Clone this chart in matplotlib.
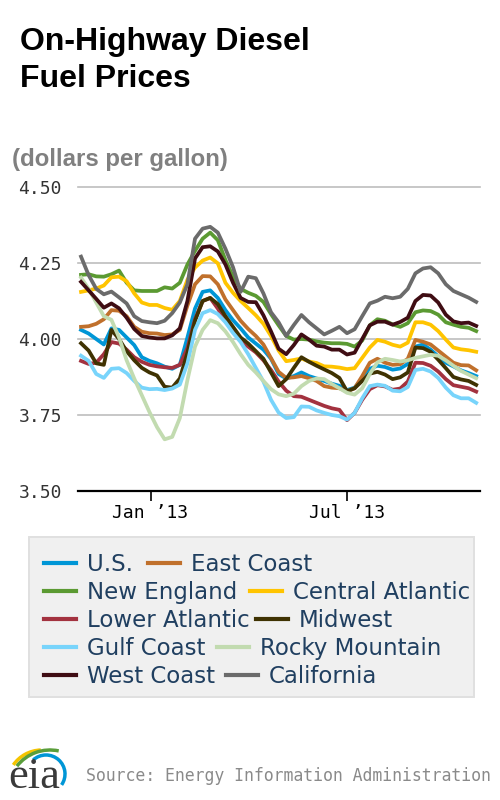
import numpy as np
import pandas as pd
import matplotlib
matplotlib.use('Agg')
import matplotlib.pyplot as plt
from matplotlib.patches import Rectangle, Arc
from matplotlib.lines import Line2D

# weekly on-highway diesel prices, dollars per gallon
weeks = pd.date_range('2012-10-29', periods=53, freq='7D')

us = [4.030, 4.018, 4.000, 3.982, 4.035, 4.030, 4.005, 3.980, 3.940, 3.928,
      3.920, 3.909, 3.902, 3.915, 4.005, 4.100, 4.155, 4.160, 4.135, 4.095,
      4.062, 4.035, 4.005, 3.985, 3.965, 3.935, 3.885, 3.870, 3.878, 3.890,
      3.878, 3.870, 3.862, 3.853, 3.846, 3.832, 3.840, 3.868, 3.902, 3.912,
      3.908, 3.899, 3.903, 3.918, 3.975, 3.982, 3.965, 3.943, 3.922, 3.910,
      3.897, 3.888, 3.878]
east_coast = [4.040, 4.042, 4.050, 4.065, 4.095, 4.093, 4.075, 4.040, 4.024, 4.019,
              4.018, 4.013, 4.015, 4.030, 4.110, 4.180, 4.207, 4.206, 4.180, 4.130,
              4.095, 4.060, 4.033, 4.010, 3.982, 3.937, 3.892, 3.872, 3.874, 3.878,
              3.871, 3.862, 3.845, 3.840, 3.838, 3.828, 3.838, 3.878, 3.922, 3.935,
              3.922, 3.915, 3.917, 3.935, 3.997, 3.991, 3.982, 3.962, 3.942, 3.922,
              3.914, 3.913, 3.897]
new_england = [4.211, 4.213, 4.206, 4.205, 4.213, 4.225, 4.185, 4.160, 4.158, 4.158,
               4.158, 4.170, 4.166, 4.185, 4.245, 4.290, 4.330, 4.350, 4.325, 4.260,
               4.205, 4.165, 4.152, 4.142, 4.122, 4.082, 4.045, 4.010, 3.998, 4.000,
               3.998, 3.992, 3.988, 3.986, 3.986, 3.984, 3.975, 3.995, 4.045, 4.065,
               4.060, 4.048, 4.040, 4.052, 4.088, 4.094, 4.092, 4.080, 4.055, 4.047,
               4.040, 4.037, 4.026]
central_atlantic = [4.155, 4.160, 4.166, 4.176, 4.203, 4.205, 4.190, 4.150, 4.120, 4.112,
                    4.112, 4.102, 4.096, 4.125, 4.195, 4.235, 4.258, 4.268, 4.249, 4.185,
                    4.152, 4.125, 4.102, 4.078, 4.050, 4.010, 3.962, 3.927, 3.931, 3.936,
                    3.926, 3.921, 3.910, 3.909, 3.906, 3.901, 3.904, 3.938, 3.972, 3.997,
                    3.991, 3.981, 3.975, 3.988, 4.055, 4.055, 4.047, 4.026, 3.998, 3.972,
                    3.966, 3.963, 3.958]
lower_atlantic = [3.928, 3.918, 3.922, 3.950, 3.990, 3.985, 3.965, 3.940, 3.925, 3.915,
                  3.910, 3.907, 3.905, 3.915, 3.970, 4.065, 4.125, 4.135, 4.100, 4.060,
                  4.028, 3.995, 3.975, 3.956, 3.930, 3.898, 3.860, 3.830, 3.812, 3.810,
                  3.800, 3.790, 3.780, 3.772, 3.767, 3.733, 3.757, 3.800, 3.835, 3.848,
                  3.844, 3.833, 3.837, 3.860, 3.922, 3.921, 3.912, 3.893, 3.868, 3.848,
                  3.843, 3.838, 3.827]
midwest = [3.986, 3.962, 3.920, 3.915, 4.030, 4.000, 3.960, 3.930, 3.905, 3.890,
           3.880, 3.843, 3.840, 3.870, 3.955, 4.060, 4.125, 4.135, 4.115, 4.075,
           4.040, 4.005, 3.985, 3.960, 3.935, 3.890, 3.845, 3.868, 3.905, 3.940,
           3.925, 3.912, 3.900, 3.888, 3.872, 3.828, 3.838, 3.862, 3.886, 3.892,
           3.883, 3.868, 3.874, 3.890, 3.972, 3.970, 3.958, 3.932, 3.904, 3.875,
           3.867, 3.862, 3.849]
gulf_coast = [3.945, 3.928, 3.885, 3.872, 3.902, 3.904, 3.888, 3.862, 3.840, 3.835,
              3.836, 3.832, 3.837, 3.850, 3.920, 4.030, 4.085, 4.095, 4.082, 4.055,
              4.020, 3.990, 3.950, 3.905, 3.860, 3.800, 3.758, 3.740, 3.743, 3.778,
              3.777, 3.765, 3.757, 3.750, 3.746, 3.735, 3.757, 3.805, 3.845, 3.850,
              3.846, 3.830, 3.828, 3.842, 3.898, 3.902, 3.893, 3.872, 3.840, 3.815,
              3.805, 3.805, 3.790]
rocky_mountain = [4.202, 4.165, 4.120, 4.075, 4.063, 4.005, 3.930, 3.870, 3.815, 3.760,
                  3.710, 3.670, 3.678, 3.740, 3.865, 3.975, 4.030, 4.062, 4.052, 4.025,
                  3.990, 3.950, 3.915, 3.890, 3.862, 3.835, 3.818, 3.812, 3.820, 3.845,
                  3.862, 3.870, 3.868, 3.852, 3.838, 3.823, 3.817, 3.838, 3.885, 3.923,
                  3.935, 3.931, 3.926, 3.930, 3.938, 3.943, 3.948, 3.945, 3.930, 3.912,
                  3.895, 3.883, 3.871]
west_coast = [4.188, 4.160, 4.132, 4.103, 4.117, 4.101, 4.070, 4.033, 4.010, 4.005,
              4.002, 4.002, 4.012, 4.035, 4.125, 4.265, 4.302, 4.305, 4.288, 4.245,
              4.185, 4.135, 4.122, 4.121, 4.078, 4.025, 3.968, 3.950, 3.980, 4.015,
              3.998, 3.978, 3.975, 3.965, 3.965, 3.949, 3.955, 4.000, 4.045, 4.057,
              4.057, 4.047, 4.056, 4.070, 4.125, 4.145, 4.143, 4.120, 4.080, 4.058,
              4.052, 4.054, 4.043]
california = [4.271, 4.210, 4.165, 4.147, 4.156, 4.137, 4.117, 4.075, 4.059, 4.055,
              4.052, 4.060, 4.085, 4.120, 4.180, 4.330, 4.363, 4.369, 4.350, 4.297,
              4.236, 4.155, 4.205, 4.200, 4.150, 4.088, 4.055, 4.010, 4.046, 4.079,
              4.055, 4.035, 4.015, 4.027, 4.040, 4.019, 4.032, 4.075, 4.117, 4.126,
              4.139, 4.134, 4.139, 4.165, 4.216, 4.232, 4.236, 4.216, 4.180, 4.158,
              4.147, 4.136, 4.122]

names = ['U.S.', 'East Coast', 'New England', 'Central Atlantic', 'Lower Atlantic',
         'Midwest', 'Gulf Coast', 'Rocky Mountain', 'West Coast', 'California']
values = [us, east_coast, new_england, central_atlantic, lower_atlantic,
          midwest, gulf_coast, rocky_mountain, west_coast, california]
colors = ['#0096d6', '#c0702c', '#5b9a32', '#ffc400', '#a3323f',
          '#3f3202', '#78d4fb', '#c2dbb0', '#3f0d13', '#6b6b6b']

yticks = [3.50, 3.75, 4.00, 4.25, 4.50]
ytick_labels = ['3.50', '3.75', '4.00', '4.25', '4.50']
xticks = [pd.Timestamp('2013-01-01'), pd.Timestamp('2013-07-01')]
xtick_labels = ['Jan \u201913', 'Jul \u201913']

W, H = 500, 800
fig = plt.figure(figsize=(5, 8), dpi=100)

# chart
ax = fig.add_axes([78 / W, 309 / H, 402 / W, 304 / H])
for vals, col in zip(values, colors):
    ax.plot(weeks, vals, color=col, lw=2.7, zorder=3)

ax.set_ylim(3.5, 4.5)
ax.set_xlim(pd.Timestamp('2012-10-26 05:00'), pd.Timestamp('2013-10-31 12:00'))
ax.set_yticks(yticks)
ax.set_yticklabels(ytick_labels, fontfamily='DejaVu Sans Mono', fontsize=13, color='#333333')
ax.set_xticks(xticks)
ax.set_xticklabels(xtick_labels, fontfamily='DejaVu Sans Mono', fontsize=13, color='black')
ax.grid(axis='y', color='#bdbdbd', lw=1.2)
for gl in ax.get_ygridlines():
    gl.set_clip_on(False)
ax.set_axisbelow(True)
for s in ['top', 'left', 'right']:
    ax.spines[s].set_visible(False)
ax.spines['bottom'].set_linewidth(1.6)
ax.spines['bottom'].set_zorder(4)
ax.tick_params(axis='y', length=0, pad=11.5)
ax.tick_params(axis='x', length=7, width=1.2, pad=2, color='black')

# overlay in pixel coordinates for titles, legend, footer
ov = fig.add_axes([0, 0, 1, 1])
ov.set_xlim(0, W)
ov.set_ylim(H, 0)
ov.axis('off')

ov.text(20, 50, 'On-Highway Diesel', fontsize=23, fontweight='bold',
        family='Liberation Sans', va='baseline', ha='left')
ov.text(20, 87, 'Fuel Prices', fontsize=23, fontweight='bold',
        family='Liberation Sans', va='baseline', ha='left')
ov.text(12, 166, '(dollars per gallon)', fontsize=17.3, fontweight='bold',
        family='Liberation Sans', color='#808080', va='baseline', ha='left')

# legend box
box = Rectangle((28.5, 536.5), 445, 160, facecolor='#f0f0f0', edgecolor='#e0e0e0', lw=1.4)
ov.add_patch(box)
color_of = dict(zip(names, colors))
legend_rows = [('U.S.', 'East Coast'), ('New England', 'Central Atlantic'),
               ('Lower Atlantic', 'Midwest'), ('Gulf Coast', 'Rocky Mountain'),
               ('West Coast', 'California')]
second_x = [148, 250, 256, 217, 226]
for i, (a, b) in enumerate(legend_rows):
    base = 571 + 28 * i
    for x0, lab in ((44, a), (second_x[i], b)):
        ov.add_line(Line2D([x0, x0 + 32], [base - 8, base - 8], color=color_of[lab], lw=3))
        t = ov.text(x0 + 43, base, lab, fontsize=16.5, family='DejaVu Sans',
                    color='#203f60', va='baseline', ha='left')
        t.set_clip_path(box)

# footer
ov.text(86, 781, 'Source: Energy Information Administration', family='DejaVu Sans Mono',
        fontsize=11.9, color='#8a8a8a', va='baseline', ha='left')
ov.text(8, 788, 'eia', family='Liberation Serif', fontsize=32, color='#3a3a3a',
        va='baseline', ha='left')
ov.add_patch(Arc((42, 785), 70, 70, theta1=215, theta2=268, color='#f5c400', lw=2.5))
ov.add_patch(Arc((50, 792), 84, 84, theta1=218, theta2=282, color='#5a9e3a', lw=2.5))
ov.add_patch(Arc((46, 774), 38, 38, theta1=228, theta2=395, color='#0096d6', lw=2.5))

fig.savefig('out.png', dpi=100)
